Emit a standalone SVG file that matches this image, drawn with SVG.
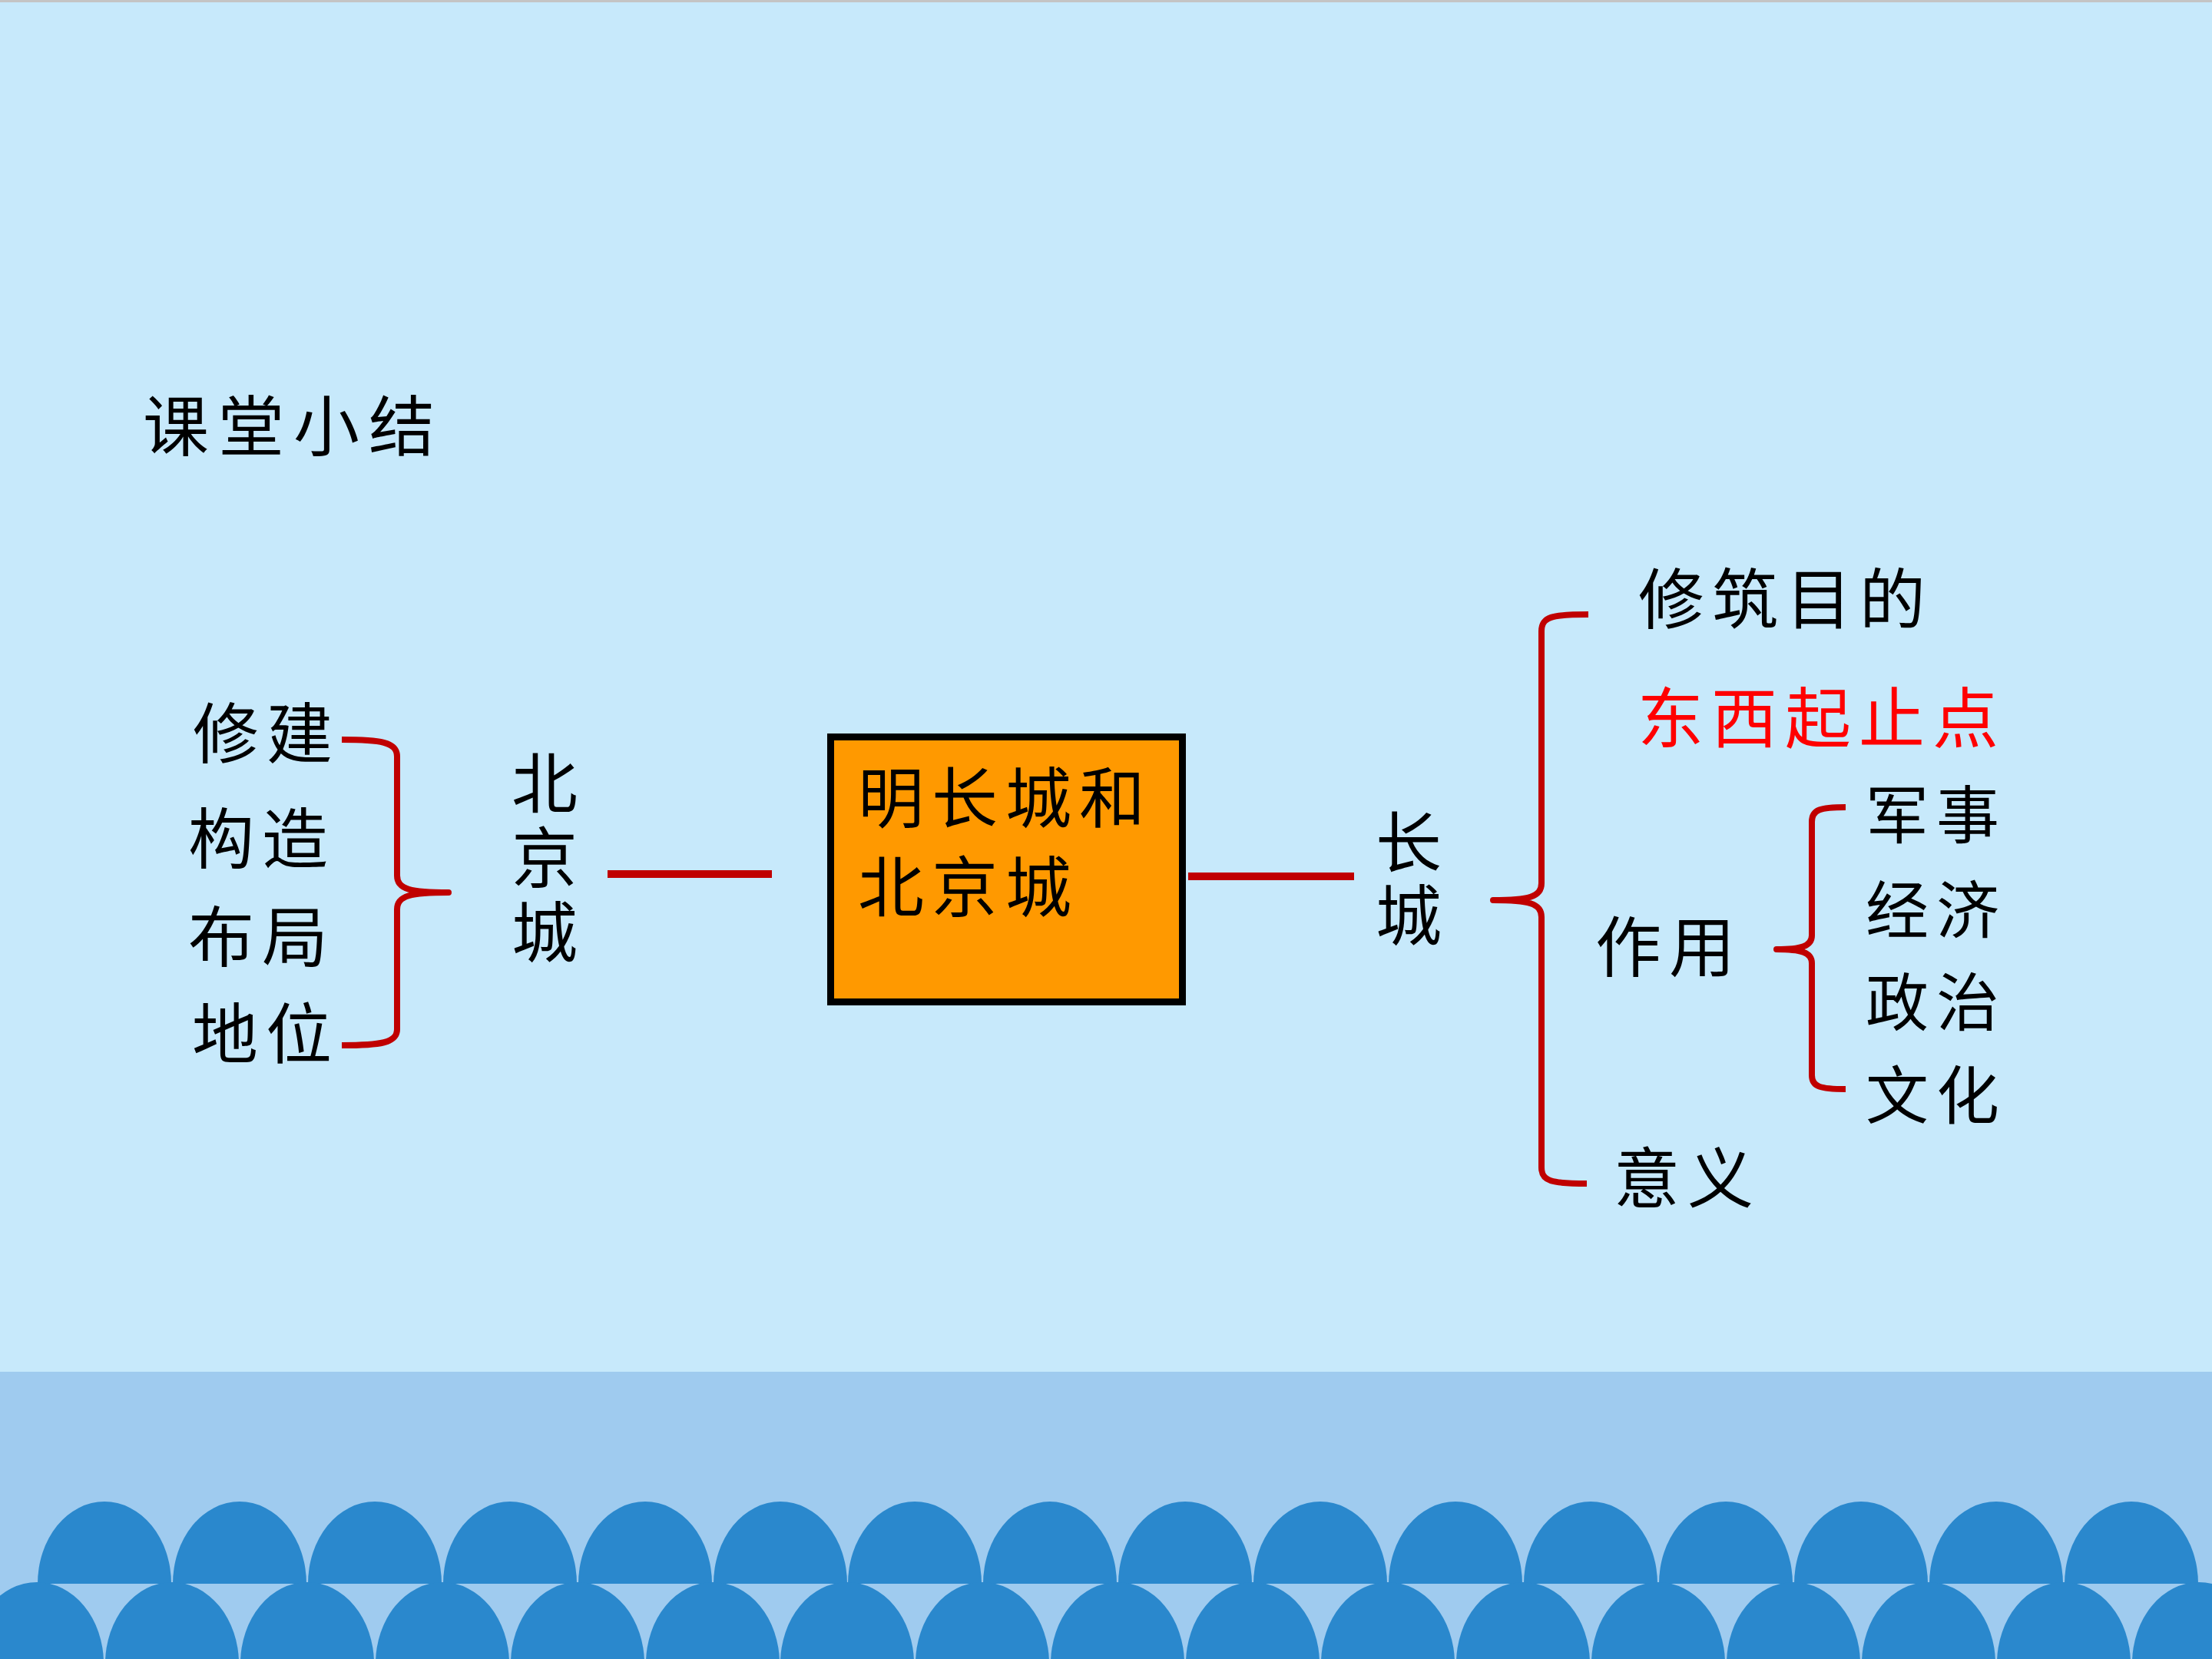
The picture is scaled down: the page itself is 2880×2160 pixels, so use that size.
<svg xmlns="http://www.w3.org/2000/svg" width="2880" height="2160" viewBox="0 0 2880 2160">
<defs>
<style>
.t{font-family:"Noto Sans CJK SC","Noto Sans CJK TC",sans-serif;font-size:86px;fill:#000;letter-spacing:10px}
.s{font-size:82px}
.v{writing-mode:vertical-rl;text-orientation:upright}
.red{fill:#FF0000}
.br{fill:none;stroke:#C00000;stroke-width:8;stroke-linecap:butt;stroke-linejoin:round}
.ln{stroke:#C00000;stroke-width:10}
.w1{fill:#2A88CD}
</style>
</defs>
<g id="background">
<rect x="0" y="0" width="2880" height="2160" fill="#C7E9FB"/>
<rect x="0" y="0" width="2880" height="3" fill="#C4C4C4"/>
<rect x="0" y="1786" width="2880" height="374" fill="#9FCBEF"/>
<g id="waves-top" class="w1">
<path d="M49,2062 A87,107 0 0 1 223,2062 Z"/>
<path d="M225,2062 A87,107 0 0 1 399,2062 Z"/>
<path d="M401,2062 A87,107 0 0 1 575,2062 Z"/>
<path d="M577,2062 A87,107 0 0 1 751,2062 Z"/>
<path d="M753,2062 A87,107 0 0 1 927,2062 Z"/>
<path d="M929,2062 A87,107 0 0 1 1103,2062 Z"/>
<path d="M1104,2062 A87,107 0 0 1 1278,2062 Z"/>
<path d="M1280,2062 A87,107 0 0 1 1454,2062 Z"/>
<path d="M1456,2062 A87,107 0 0 1 1630,2062 Z"/>
<path d="M1632,2062 A87,107 0 0 1 1806,2062 Z"/>
<path d="M1808,2062 A87,107 0 0 1 1982,2062 Z"/>
<path d="M1984,2062 A87,107 0 0 1 2158,2062 Z"/>
<path d="M2160,2062 A87,107 0 0 1 2334,2062 Z"/>
<path d="M2336,2062 A87,107 0 0 1 2510,2062 Z"/>
<path d="M2512,2062 A87,107 0 0 1 2686,2062 Z"/>
<path d="M2688,2062 A87,107 0 0 1 2862,2062 Z"/>
</g>
<g id="waves-bottom" class="w1">
<path d="M-39,2166 A87,106 0 0 1 135,2166 Z"/>
<path d="M137,2166 A87,106 0 0 1 311,2166 Z"/>
<path d="M313,2166 A87,106 0 0 1 487,2166 Z"/>
<path d="M489,2166 A87,106 0 0 1 663,2166 Z"/>
<path d="M665,2166 A87,106 0 0 1 839,2166 Z"/>
<path d="M841,2166 A87,106 0 0 1 1015,2166 Z"/>
<path d="M1016,2166 A87,106 0 0 1 1190,2166 Z"/>
<path d="M1192,2166 A87,106 0 0 1 1366,2166 Z"/>
<path d="M1368,2166 A87,106 0 0 1 1542,2166 Z"/>
<path d="M1544,2166 A87,106 0 0 1 1718,2166 Z"/>
<path d="M1720,2166 A87,106 0 0 1 1894,2166 Z"/>
<path d="M1896,2166 A87,106 0 0 1 2070,2166 Z"/>
<path d="M2072,2166 A87,106 0 0 1 2246,2166 Z"/>
<path d="M2248,2166 A87,106 0 0 1 2422,2166 Z"/>
<path d="M2424,2166 A87,106 0 0 1 2598,2166 Z"/>
<path d="M2600,2166 A87,106 0 0 1 2774,2166 Z"/>
<path d="M2776,2166 A87,106 0 0 1 2950,2166 Z"/>
</g>
</g>
<g id="title"><text class="t" x="186" y="587" style="letter-spacing:12px">课堂小结</text></g>
<g id="connectors">
<line class="ln" x1="791" y1="1138" x2="1005" y2="1138"/>
<line class="ln" x1="1547" y1="1141" x2="1763" y2="1141"/>
<path class="br" d="M445,963 C495,963 517,966 517,985 L517,1140 C517,1158 535,1162 584,1162 C535,1162 517,1166 517,1184 L517,1340 C517,1358 495,1361 445,1361"/>
<path class="br" d="M2068,800 C2020,800 2007,803 2007,822 L2007,1150 C2007,1168 1990,1172 1944,1172 C1990,1172 2007,1176 2007,1194 L2007,1520 C2007,1538 2020,1541 2066,1541"/>
<path class="br" d="M2403,1051 C2370,1051 2359,1054 2359,1070 L2359,1218 C2359,1232 2345,1236 2313,1236 C2345,1236 2359,1240 2359,1254 L2359,1400 C2359,1415 2370,1418 2403,1418"/>
</g>
<g id="left-items">
<text class="t" x="251" y="987">修建</text>
<text class="t" x="245" y="1124">构造</text>
<text class="t" x="245" y="1252">布局</text>
<text class="t" x="250" y="1378">地位</text>
</g>
<g id="node-beijing"><text class="t v" x="709" y="976" style="letter-spacing:11px">北京城</text></g>
<g id="node-center">
<rect x="1081.5" y="959.5" width="458" height="345" fill="#FF9900" stroke="#000" stroke-width="9"/>
<text class="t" x="1117" y="1071">明长城和</text>
<text class="t" x="1117" y="1187">北京城</text>
</g>
<g id="node-changcheng"><text class="t v" x="1834" y="1053" style="letter-spacing:9px">长城</text></g>
<g id="right-items">
<text class="t" x="2133" y="812">修筑目的</text>
<text class="t red" x="2132" y="967">东西起止点</text>
<text class="t" x="2077" y="1265">作用</text>
<text class="t" x="2101" y="1566">意义</text>
</g>
<g id="zuoyong-items">
<text class="t s" x="2429" y="1091">军事</text>
<text class="t s" x="2429" y="1215">经济</text>
<text class="t s" x="2429" y="1335">政治</text>
<text class="t s" x="2429" y="1456">文化</text>
</g>
</svg>
